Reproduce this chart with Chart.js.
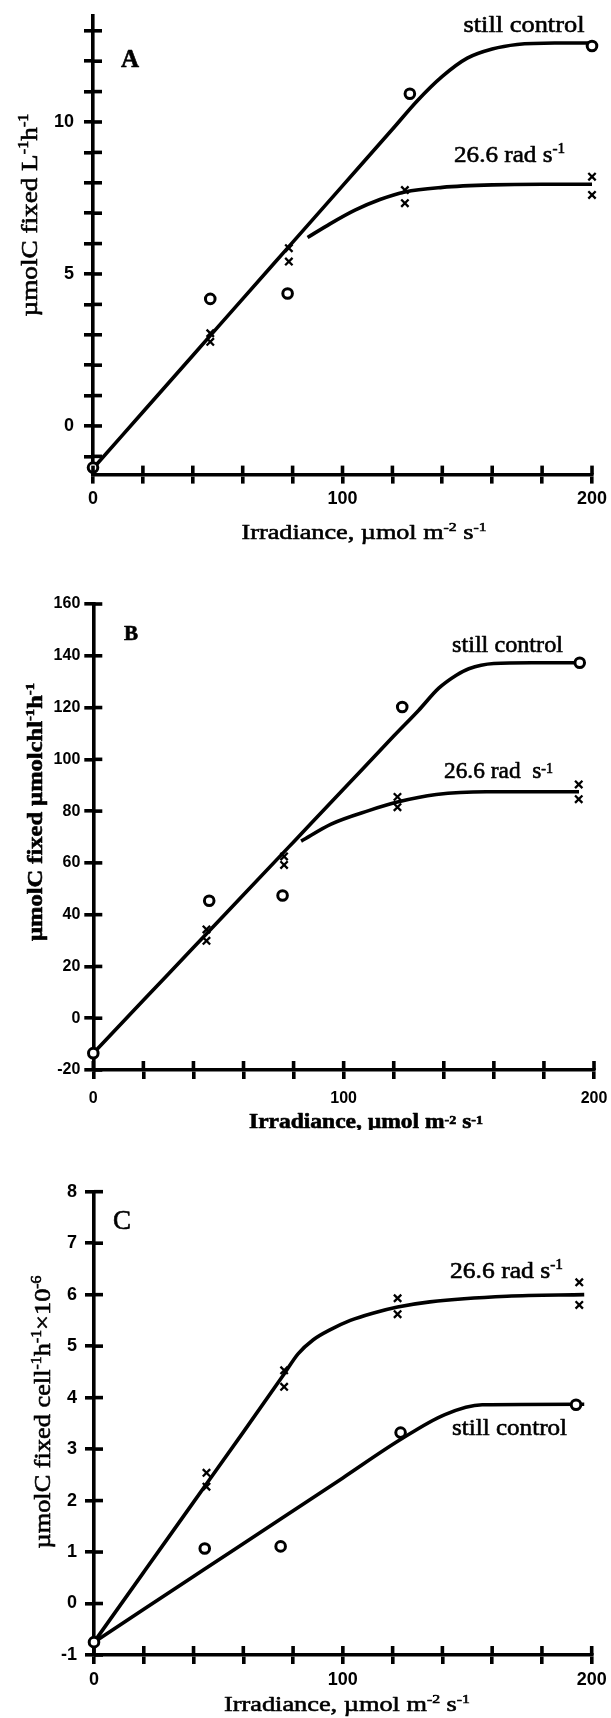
<!DOCTYPE html>
<html><head><meta charset="utf-8">
<script src="https://cdn.jsdelivr.net/npm/chart.js@4.4.1/dist/chart.umd.min.js"></script>
<style>
html,body{margin:0;padding:0;background:#fff;width:611px;height:1718px;overflow:hidden}
canvas{position:absolute;left:0}
</style></head>
<body>
<canvas id="cA" width="611" height="550" style="top:0px"></canvas>
<canvas id="cB" width="611" height="580" style="top:550px"></canvas>
<canvas id="cC" width="611" height="588" style="top:1130px"></canvas>
<script>
// ---------- DATA ----------
const xTickLabels = [0, 100, 200];
const aYTickLabels = [0, 5, 10];

// Panel A: umolC fixed L-1 h-1
const aCtrlX = [0, 47, 78, 127, 200];
const aCtrlY = [-1.37, 4.18, 4.36, 10.93, 12.5];
const aRadX = [47, 47, 78.5, 78.5, 125, 125, 200, 200];
const aRadY = [3.05, 2.77, 5.85, 5.41, 7.76, 7.33, 8.2, 7.6];
const aCtrlFitX = [0, 20, 40, 60, 80, 100, 120, 130, 140, 150, 160, 170, 185, 200];
const aCtrlFitY = [-1.4, 0.46, 2.32, 4.18, 6.04, 7.9, 9.76, 10.7, 11.5, 12.1, 12.4, 12.55, 12.6, 12.6];
const aRadFitX = [86, 95, 105, 115, 125, 140, 160, 180, 200];
const aRadFitY = [6.2, 6.65, 7.1, 7.45, 7.7, 7.85, 7.93, 7.95, 7.95];

// Panel B: umolC fixed umolchl-1 h-1
const bCtrlX = [0, 46.3, 75.6, 123.4, 194.3];
const bCtrlY = [-13.5, 45.4, 47.4, 120.2, 137.3];
const bRadX = [45.2, 45.2, 76.2, 76.2, 121.5, 121.5, 193.9, 193.9];
const bRadY = [34.3, 29.9, 62.5, 59.2, 85.5, 81.5, 90.3, 84.6];
const bCtrlFitX = [0, 20, 40, 60, 80, 100, 120, 130, 138, 145, 150, 160, 175, 194];
const bCtrlFitY = [-13.5, 6.9, 27.3, 47.7, 68.1, 88.5, 109, 119, 127.5, 132.5, 135, 137, 137.3, 137.3];
const bRadFitX = [83, 95, 110, 121.5, 137, 157, 194];
const bRadFitY = [68.4, 75, 80.2, 83.5, 86.4, 87.5, 87.5];

// Panel C: umolC fixed cell-1 h-1 x10-6
const cCtrlX = [0, 44.5, 75, 123.2, 193.7];
const cCtrlY = [-0.75, 1.07, 1.11, 3.32, 3.86];
const cRadX = [45.2, 45.2, 76.4, 76.4, 122, 122, 195, 195];
const cRadY = [2.54, 2.27, 4.53, 4.21, 5.93, 5.62, 6.24, 5.8];
const cRadFitX = [0, 20, 40, 60, 76.4, 82, 88, 95, 103, 112, 122, 135, 166, 197];
const cRadFitY = [-0.75, 0.61, 1.97, 3.33, 4.46, 4.85, 5.12, 5.32, 5.5, 5.64, 5.76, 5.86, 5.97, 6.0];
const cCtrlFitX = [0, 20, 44.5, 75, 100, 123, 141, 156, 197];
const cCtrlFitY = [-0.75, -0.11, 0.67, 1.64, 2.44, 3.18, 3.67, 3.86, 3.87];

// ---------- HELPERS ----------
const pts = (xs, ys) => xs.map((x, i) => ({x, y: ys[i]}));
const SERIF = '"Liberation Serif", "Times New Roman", serif';
const SANS = '"Liberation Sans", Arial, sans-serif';
const LW = 3.6;

function rich(ctx, t, top) {
  const size = t.size, weight = t.weight || 'normal', fam = t.family || SERIF;
  ctx.save();
  ctx.translate(t.x, t.y - top);
  if (t.rot) ctx.rotate(t.rot);
  let total = 0;
  const ws = t.parts.map(p => {
    ctx.font = `${weight} ${size * p[1]}px ${fam}`;
    const w = ctx.measureText(p[0]).width; total += w; return w;
  });
  if (t.w) ctx.scale(t.w / total, 1);
  let cx = -total / 2;
  ctx.fillStyle = '#000';
  ctx.strokeStyle = '#000';
  ctx.lineWidth = 0.6;
  ctx.lineJoin = 'round';
  ctx.textBaseline = 'alphabetic';
  ctx.textAlign = 'left';
  t.parts.forEach((p, i) => {
    ctx.font = `${weight} ${size * p[1]}px ${fam}`;
    ctx.fillText(p[0], cx, p[2] * size);
    ctx.strokeText(p[0], cx, p[2] * size);
    cx += ws[i];
  });
  ctx.restore();
}

const crossTicks = {
  id: 'crossTicks',
  afterDatasetsDraw(chart) {
    const {ctx, chartArea: a} = chart;
    const xs = chart.scales.x, ys = chart.scales.y;
    ctx.save();
    ctx.strokeStyle = '#000'; ctx.lineWidth = LW;
    xs.ticks.forEach(t => {
      const p = xs.getPixelForValue(t.value);
      ctx.beginPath(); ctx.moveTo(p, a.bottom); ctx.lineTo(p, a.bottom - 9); ctx.stroke();
    });
    ys.ticks.forEach(t => {
      const p = ys.getPixelForValue(t.value);
      ctx.beginPath(); ctx.moveTo(a.left, p); ctx.lineTo(a.left + 9, p); ctx.stroke();
    });
    ctx.restore();
  }
};

function makePanel(id, P) {
  const texts = {
    id: 'texts',
    afterDraw(chart) { P.texts.forEach(t => rich(chart.ctx, t, P.top)); }
  };
  new Chart(document.getElementById(id), {
    type: 'scatter',
    data: {
      datasets: [
        {label: 'still control', data: pts(P.ctrlX, P.ctrlY), showLine: false,
         pointStyle: 'circle', pointRadius: 4.8, pointBorderWidth: 3,
         pointBackgroundColor: '#fff', pointBorderColor: '#000', clip: false, order: 0},
        {label: '26.6 rad s-1', data: pts(P.radX, P.radY), showLine: false,
         pointStyle: 'crossRot', pointRadius: 5.2, pointBorderWidth: 2.3,
         pointBorderColor: '#000', clip: false, order: 1},
        {label: 'still fit', data: pts(P.ctrlFitX, P.ctrlFitY), showLine: true,
         pointRadius: 0, borderColor: '#000', borderWidth: LW,
         cubicInterpolationMode: 'monotone', clip: false, order: 2},
        {label: 'rad fit', data: pts(P.radFitX, P.radFitY), showLine: true,
         pointRadius: 0, borderColor: '#000', borderWidth: LW,
         cubicInterpolationMode: 'monotone', clip: false, order: 3}
      ]
    },
    options: {
      responsive: false, animation: false, devicePixelRatio: 1, events: [],
      layout: {padding: {left: 0, top: P.T, right: P.R, bottom: 0}},
      plugins: {legend: {display: false}, tooltip: {enabled: false}},
      scales: {
        x: {
          type: 'linear', min: 0, max: 200,
          border: {display: true, width: LW, color: '#000'},
          grid: {display: true, drawOnChartArea: false, drawTicks: true, tickLength: 9,
                 lineWidth: LW, color: '#000', tickColor: '#000'},
          ticks: {stepSize: 20, padding: P.xPad, color: '#000', maxRotation: 0, autoSkip: false,
                  font: {family: SANS, size: P.tickSize, weight: 'bold'},
                  callback: v => xTickLabels.includes(v) ? String(v) : ''},
          afterFit(s) { s.height = P.Hb; s.paddingLeft = 0; s.paddingRight = 0; }
        },
        y: {
          type: 'linear', min: P.yMin, max: P.yMax,
          border: {display: true, width: LW, color: '#000'},
          grid: {display: true, drawOnChartArea: false, drawTicks: true, tickLength: 9,
                 lineWidth: LW, color: '#000', tickColor: '#000'},
          ticks: {stepSize: P.yStep, includeBounds: false, padding: P.yPad, color: '#000', autoSkip: false,
                  font: {family: SANS, size: P.tickSize, weight: 'bold'},
                  callback: v => (P.yLabels ? (P.yLabels.includes(v) ? String(v) : '') : String(v))},
          afterFit(s) { s.width = P.L; s.paddingTop = 0; s.paddingBottom = 0; }
        }
      }
    },
    plugins: [crossTicks, texts]
  });
}

const sup = (s) => [s, 0.6, -0.38];
const ROT = -Math.PI / 2;

makePanel('cA', {
  top: 0, L: 93, T: 15.6, R: 19, Hb: 75.4,
  yMin: -1.6, yMax: 13.5, yStep: 1, yLabels: aYTickLabels,
  xPad: 5, yPad: 10, tickSize: 18,
  ctrlX: aCtrlX, ctrlY: aCtrlY, radX: aRadX, radY: aRadY,
  ctrlFitX: aCtrlFitX, ctrlFitY: aCtrlFitY, radFitX: aRadFitX, radFitY: aRadFitY,
  texts: [
    {parts: [['A', 1, 0]], x: 130, y: 67, size: 25, weight: 'bold'},
    {parts: [['still control', 1, 0]], x: 524, y: 31.5, size: 24, w: 121},
    {parts: [['26.6 rad s', 1, 0], sup('-1')], x: 509.5, y: 162, size: 24, w: 111},
    {parts: [['Irradiance, µmol m', 1, 0], sup('-2'), [' s', 1, 0], sup('-1')], x: 364, y: 539, size: 22, w: 245},
    {parts: [['µmolC fixed L', 1, 0], sup('-1'), ['h', 1, 0], sup('-1')], x: 37, y: 215, size: 23, w: 203, rot: ROT}
  ]
});

makePanel('cB', {
  top: 550, L: 93.3, T: 54, R: 17, Hb: 60,
  yMin: -20, yMax: 160, yStep: 20, yLabels: null,
  xPad: 10, yPad: 4, tickSize: 16,
  ctrlX: bCtrlX, ctrlY: bCtrlY, radX: bRadX, radY: bRadY,
  ctrlFitX: bCtrlFitX, ctrlFitY: bCtrlFitY, radFitX: bRadFitX, radFitY: bRadFitY,
  texts: [
    {parts: [['B', 1, 0]], x: 131, y: 640, size: 21, weight: 'bold'},
    {parts: [['still control', 1, 0]], x: 507.5, y: 652, size: 24, w: 111},
    {parts: [['26.6 rad  s', 1, 0], ['-1', 0.6, -0.2]], x: 498.5, y: 778, size: 24, w: 109},
    {parts: [['Irradiance, µmol m', 1, 0], ['-2', 0.6, -0.2], [' s', 1, 0], ['-1', 0.6, -0.2]], x: 366, y: 1128, size: 21, w: 234, weight: 'bold'},
    {parts: [['µmolC fixed µmolchl', 1, 0], sup('-1'), ['h', 1, 0], sup('-1')], x: 42, y: 812, size: 22, w: 258, rot: ROT, weight: 'bold'}
  ]
});

makePanel('cC', {
  top: 1130, L: 94, T: 61.7, R: 19.3, Hb: 63,
  yMin: -1, yMax: 8, yStep: 1, yLabels: null,
  xPad: 5, yPad: 8, tickSize: 18,
  ctrlX: cCtrlX, ctrlY: cCtrlY, radX: cRadX, radY: cRadY,
  ctrlFitX: cCtrlFitX, ctrlFitY: cCtrlFitY, radFitX: cRadFitX, radFitY: cRadFitY,
  texts: [
    {parts: [['C', 1, 0]], x: 122, y: 1229, size: 27},
    {parts: [['26.6 rad s', 1, 0], sup('-1')], x: 506.5, y: 1278, size: 24, w: 113},
    {parts: [['still control', 1, 0]], x: 509.5, y: 1435, size: 24, w: 115},
    {parts: [['µmolC fixed cell', 1, 0], sup('-1'), ['h', 1, 0], sup('-1'), ['×10', 1, 0], sup('-6')], x: 50, y: 1412, size: 23, w: 273, rot: ROT},
    {parts: [['Irradiance, µmol m', 1, 0], sup('-2'), [' s', 1, 0], sup('-1')], x: 347, y: 1711, size: 22, w: 246}
  ]
});
</script>
</body></html>
